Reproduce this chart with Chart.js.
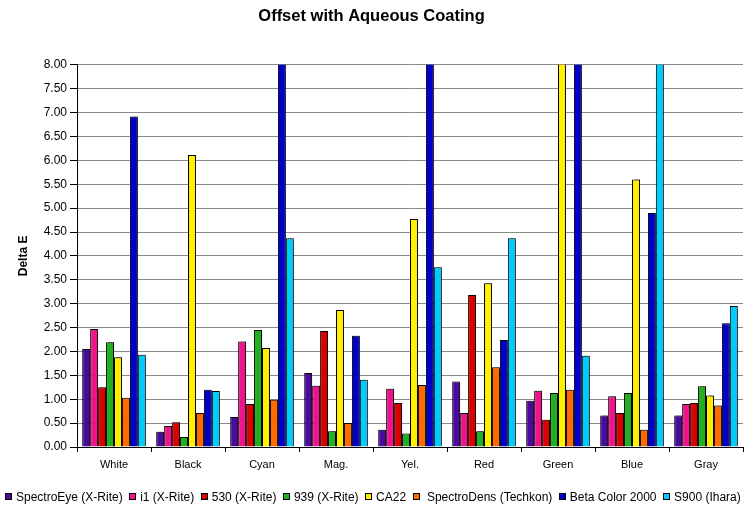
<!DOCTYPE html>
<html>
<head>
<meta charset="utf-8">
<script src="https://cdn.jsdelivr.net/npm/chart.js@4"></script>
<style>
  html, body { margin: 0; padding: 0; background: #fff; }
  #wrap { width: 745px; height: 510px; }
</style>
</head>
<body>
<div id="wrap"><canvas id="c" width="745" height="510"></canvas></div>
<script>
// Delta E per colour patch for each instrument (values above 8 run off the scale)
const categories = ['White', 'Black', 'Cyan', 'Mag.', 'Yel.', 'Red', 'Green', 'Blue', 'Gray'];

const spectroEye  = [2.05, 0.32, 0.63, 1.55, 0.36, 1.37, 0.97, 0.66, 0.66];
const i1          = [2.47, 0.44, 2.21, 1.28, 1.22, 0.71, 1.18, 1.06, 0.90];
const xr530       = [1.25, 0.52, 0.90, 2.43, 0.92, 3.18, 0.57, 0.71, 0.92];
const xr939       = [2.19, 0.21, 2.45, 0.33, 0.28, 0.33, 1.13, 1.13, 1.27];
const ca22        = [1.88, 6.11, 2.07, 2.87, 4.77, 3.43, 9.00, 5.60, 1.08];
const spectroDens = [1.03, 0.71, 0.99, 0.50, 1.30, 1.67, 1.20, 0.36, 0.87];
const betaColor   = [6.92, 1.20, 9.00, 2.33, 9.00, 2.24, 9.00, 4.90, 2.59];
const s900        = [1.93, 1.17, 4.37, 1.41, 3.76, 4.37, 1.91, 9.00, 2.95];

const seriesNames = ['SpectroEye (X-Rite)', 'i1 (X-Rite)', '530 (X-Rite)', '939 (X-Rite)',
                     'CA22', ' SpectroDens (Techkon)', 'Beta Color 2000', 'S900 (Ihara)'];
const seriesColors = ['#4a0aa0', '#f0148c', '#dc0000', '#20b020',
                      '#fff000', '#ff6a00', '#0000cc', '#00ccff'];
const seriesValues = [spectroEye, i1, xr530, xr939, ca22, spectroDens, betaColor, s900];

const yTicks = { min: 0, max: 8, step: 0.5 };

const baseFont = '"Liberation Sans", Arial, sans-serif';

// soft grey shadow behind the bars
const barShadow = {
  id: 'barShadow',
  beforeDatasetsDraw(chart) {
    const ctx = chart.ctx;
    ctx.save();
    ctx.shadowColor = 'rgba(0,0,0,0.35)';
    ctx.shadowOffsetX = 2;
    ctx.shadowOffsetY = -1;
    ctx.shadowBlur = 1;
  },
  afterDatasetsDraw(chart) {
    chart.ctx.restore();
  }
};

// compact single-row legend along the bottom edge
const compactLegend = {
  id: 'compactLegend',
  afterDraw(chart) {
    const ctx = chart.ctx;
    const box = 7, boxGap = 4, itemGap = 6.5;
    const y = chart.height - 13;
    ctx.save();
    ctx.font = '12px ' + baseFont;
    const items = chart.data.datasets.map(ds => ({
      text: ds.label,
      color: ds.backgroundColor,
      w: ctx.measureText(ds.label).width
    }));
    const total = items.reduce((s, it) => s + box + boxGap + it.w, 0) + itemGap * (items.length - 1);
    let x = Math.round((chart.width - total) / 2);
    ctx.textBaseline = 'middle';
    ctx.textAlign = 'left';
    items.forEach(it => {
      const bx = Math.round(x) + 0.5;
      ctx.fillStyle = it.color;
      ctx.fillRect(bx, y - 3.5, box - 1, box - 1);
      ctx.strokeStyle = '#000';
      ctx.lineWidth = 1;
      ctx.strokeRect(bx, y - 3.5, box - 1, box - 1);
      ctx.fillStyle = '#000';
      ctx.fillText(it.text, x + box + boxGap, y + 0.5);
      x += box + boxGap + it.w + itemGap;
    });
    ctx.restore();
  }
};

new Chart(document.getElementById('c'), {
  type: 'bar',
  data: {
    labels: categories,
    datasets: seriesValues.map((vals, i) => ({
      label: seriesNames[i],
      data: vals,
      backgroundColor: seriesColors[i],
      borderColor: '#000',
      borderWidth: 1,
      borderSkipped: 'bottom',
      barPercentage: 1.0,
      categoryPercentage: 0.86
    }))
  },
  options: {
    responsive: false,
    animation: false,
    devicePixelRatio: 1,
    layout: { padding: { left: 0, right: 2, top: 0, bottom: 32 } },
    plugins: {
      title: {
        display: true,
        text: 'Offset with Aqueous Coating',
        color: '#000',
        font: { family: baseFont, size: 16.5, weight: 'bold' },
        padding: { top: 7, bottom: 38 }
      },
      legend: { display: false },
      tooltip: { enabled: false }
    },
    scales: {
      x: {
        grid: { drawOnChartArea: false, drawTicks: true, tickLength: 5, tickColor: '#000', offset: true },
        border: { color: '#000', width: 1 },
        ticks: { color: '#000', font: { family: baseFont, size: 11 }, padding: 6, maxRotation: 0 },
        afterFit(s) { s.height = 31; }
      },
      y: {
        min: yTicks.min,
        max: yTicks.max,
        ticks: {
          stepSize: yTicks.step,
          color: '#000',
          font: { family: baseFont, size: 12 },
          padding: 3,
          callback: v => Number(v).toFixed(2)
        },
        grid: { color: '#8a8a8a', lineWidth: 1, tickColor: '#000', tickLength: 7 },
        border: { color: '#000', width: 1 },
        title: {
          display: true,
          text: 'Delta E',
          color: '#000',
          font: { family: baseFont, size: 12, weight: 'bold' },
          padding: { top: 16, bottom: 0 }
        },
        afterFit(s) { s.width = 77; }
      }
    }
  },
  plugins: [barShadow, compactLegend]
});
</script>
</body>
</html>
